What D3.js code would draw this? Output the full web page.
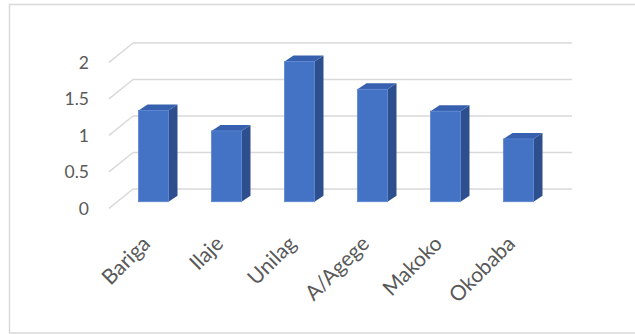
<!DOCTYPE html>
<html>
<head>
<meta charset="utf-8">
<script src="https://cdn.jsdelivr.net/npm/d3@7"></script>
<style>
  html, body { margin: 0; padding: 0; background: #fff; }
  svg { display: block; }
</style>
</head>
<body>
<svg id="chart" width="635" height="334"></svg>
<script>
const categories = ["Bariga", "Ilaje", "Unilag", "A/Agege", "Makoko", "Okobaba"];
const values = [1.25, 0.97, 1.92, 1.54, 1.24, 0.86];
const yTicks = [0, 0.5, 1, 1.5, 2];
const yTickLabels = ["0", "0.5", "1", "1.5", "2"];

const svg = d3.select("#chart");
const W = 635, H = 334;
const font = "Lato, 'Open Sans', sans-serif";
const textColor = "#595959";

// chart frame
svg.append("rect")
  .attr("x", 9.5).attr("y", 4.5)
  .attr("width", W + 10).attr("height", 328.5)
  .attr("fill", "#fff").attr("stroke", "#d9d9d9").attr("stroke-width", 1.5);

// scales (y at the bar front plane)
const baseY = 201.7;
const y = d3.scaleLinear().domain([0, 2]).range([baseY, baseY - 146]);
const x = d3.scaleBand().domain(categories)
  .range([117, 555]).paddingInner(0.589).paddingOuter(0.2945);

// depth offsets
const back = { dx: 0, dy: -12.7 };      // back wall relative to bar front plane
const front = { dx: -24, dy: 19.4 };    // side-wall front edge relative to back wall
const depth = { dx: 9, dy: -6 };         // bar depth

const backLeft = 133, backRight = 572;

// gridlines: back wall + left side wall
const grid = svg.append("g");
yTicks.forEach(t => {
  const yb = y(t) + back.dy;
  grid.append("line")
    .attr("x1", backLeft).attr("x2", backRight)
    .attr("y1", yb).attr("y2", yb)
    .attr("stroke", "#d9d9d9").attr("stroke-width", 1.5);
  grid.append("line")
    .attr("x1", backLeft).attr("y1", yb)
    .attr("x2", backLeft + front.dx).attr("y2", yb + front.dy)
    .attr("stroke", "#d9d9d9").attr("stroke-width", 1.5);
});

// y tick labels
svg.append("g").selectAll("text")
  .data(yTicks)
  .join("text")
  .attr("x", 89)
  .attr("y", (d) => y(d) + back.dy + front.dy)
  .attr("text-anchor", "end")
  .attr("dominant-baseline", "central")
  .attr("font-family", font)
  .attr("font-size", 17.5)
  .attr("fill", textColor)
  .text((d, i) => yTickLabels[i]);

// bars
const bars = svg.append("g").selectAll("g")
  .data(categories.map((c, i) => ({ c, v: values[i] })))
  .join("g");

const bw = x.bandwidth();
bars.append("path") // side face
  .attr("d", d => {
    const x1 = x(d.c) + bw, yt = y(d.v), yb = y(0);
    return `M${x1},${yt} L${x1 + depth.dx},${yt + depth.dy} L${x1 + depth.dx},${yb + depth.dy} L${x1},${yb} Z`;
  })
  .attr("fill", "#2E4F8E");
bars.append("path") // top face
  .attr("d", d => {
    const x0 = x(d.c), x1 = x0 + bw, yt = y(d.v);
    return `M${x0},${yt} L${x0 + depth.dx},${yt + depth.dy} L${x1 + depth.dx},${yt + depth.dy} L${x1},${yt} Z`;
  })
  .attr("fill", "#3761AE");
bars.append("rect") // front face
  .attr("x", d => x(d.c))
  .attr("y", d => y(d.v))
  .attr("width", bw)
  .attr("height", d => y(0) - y(d.v))
  .attr("fill", "#4472C4")
  .attr("stroke", "#5A86D2").attr("stroke-width", 0.8);

// category labels
svg.append("g").selectAll("text")
  .data(categories)
  .join("text")
  .attr("transform", d => `translate(${x(d) + bw / 2 - 2},${245}) rotate(-45)`)
  .attr("text-anchor", "end")
  .attr("font-family", font)
  .attr("font-size", 21)
  .attr("fill", textColor)
  .text(d => d);
</script>
</body>
</html>
